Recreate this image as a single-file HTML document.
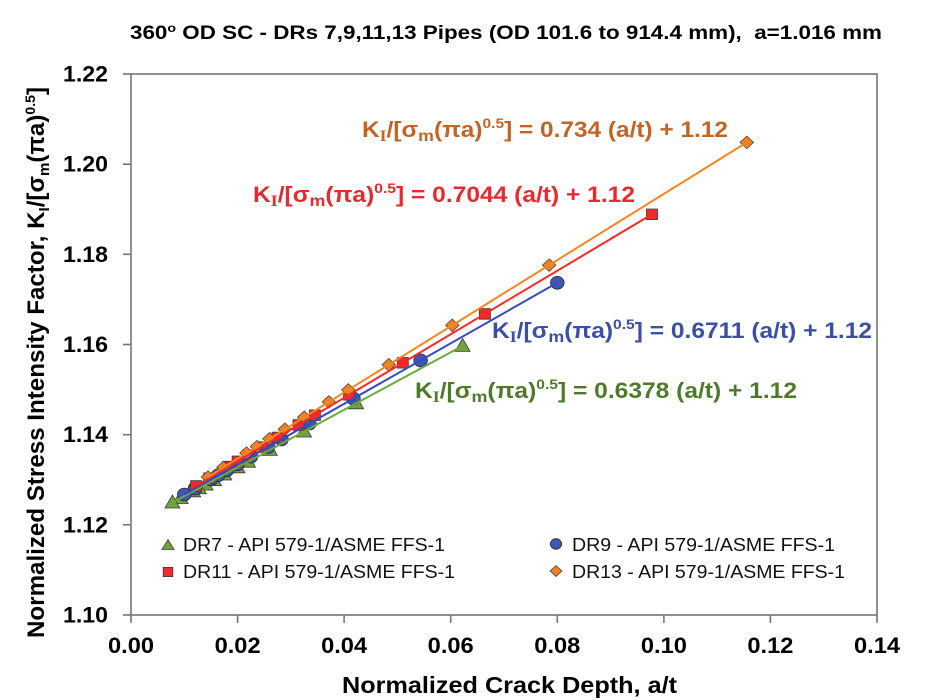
<!DOCTYPE html>
<html>
<head>
<meta charset="utf-8">
<style>
  html,body{margin:0;padding:0;background:#fff;}
  svg{display:block;}
  text{font-family:"Liberation Sans", Arial, sans-serif;}
</style>
</head>
<body>
<svg width="940" height="700" viewBox="0 0 940 700" xmlns="http://www.w3.org/2000/svg">
  <rect x="0" y="0" width="940" height="700" fill="#fff"/>

  <!-- Title -->
  <text x="130" y="39" font-size="19" font-weight="bold" fill="#000" textLength="752" lengthAdjust="spacingAndGlyphs">360<tspan font-size="12" dy="-7">o</tspan><tspan dy="7"> OD SC - DRs 7,9,11,13 Pipes (OD 101.6 to 914.4 mm),&#160; a=1.016 mm</tspan></text>

  <!-- Plot box -->
  <rect x="131" y="74" width="746" height="541" fill="none" stroke="#767676" stroke-width="1.6"/>

  <!-- Y ticks -->
  <g stroke="#767676" stroke-width="1.6">
    <line x1="123" y1="74" x2="131" y2="74"/>
    <line x1="123" y1="164.2" x2="131" y2="164.2"/>
    <line x1="123" y1="254.3" x2="131" y2="254.3"/>
    <line x1="123" y1="344.5" x2="131" y2="344.5"/>
    <line x1="123" y1="434.7" x2="131" y2="434.7"/>
    <line x1="123" y1="524.8" x2="131" y2="524.8"/>
    <line x1="123" y1="615" x2="131" y2="615"/>
  </g>
  <!-- X ticks -->
  <g stroke="#767676" stroke-width="1.6">
    <line x1="131" y1="615" x2="131" y2="623"/>
    <line x1="237.6" y1="615" x2="237.6" y2="623"/>
    <line x1="344.1" y1="615" x2="344.1" y2="623"/>
    <line x1="450.7" y1="615" x2="450.7" y2="623"/>
    <line x1="557.3" y1="615" x2="557.3" y2="623"/>
    <line x1="663.9" y1="615" x2="663.9" y2="623"/>
    <line x1="770.4" y1="615" x2="770.4" y2="623"/>
    <line x1="877" y1="615" x2="877" y2="623"/>
  </g>

  <!-- Y tick labels -->
  <g font-size="22" font-weight="bold" fill="#000">
    <text x="63" y="81.5" textLength="45" lengthAdjust="spacingAndGlyphs">1.22</text>
    <text x="63" y="171.7" textLength="45" lengthAdjust="spacingAndGlyphs">1.20</text>
    <text x="63" y="261.8" textLength="45" lengthAdjust="spacingAndGlyphs">1.18</text>
    <text x="63" y="352" textLength="45" lengthAdjust="spacingAndGlyphs">1.16</text>
    <text x="63" y="442.2" textLength="45" lengthAdjust="spacingAndGlyphs">1.14</text>
    <text x="63" y="532.3" textLength="45" lengthAdjust="spacingAndGlyphs">1.12</text>
    <text x="63" y="622.5" textLength="45" lengthAdjust="spacingAndGlyphs">1.10</text>
  </g>

  <!-- X tick labels -->
  <g font-size="22" font-weight="bold" fill="#000">
    <text x="108" y="653" textLength="46" lengthAdjust="spacingAndGlyphs">0.00</text>
    <text x="214.6" y="653" textLength="46" lengthAdjust="spacingAndGlyphs">0.02</text>
    <text x="321.1" y="653" textLength="46" lengthAdjust="spacingAndGlyphs">0.04</text>
    <text x="427.7" y="653" textLength="46" lengthAdjust="spacingAndGlyphs">0.06</text>
    <text x="534.3" y="653" textLength="46" lengthAdjust="spacingAndGlyphs">0.08</text>
    <text x="640.9" y="653" textLength="46" lengthAdjust="spacingAndGlyphs">0.10</text>
    <text x="747.4" y="653" textLength="46" lengthAdjust="spacingAndGlyphs">0.12</text>
    <text x="854" y="653" textLength="46" lengthAdjust="spacingAndGlyphs">0.14</text>
  </g>

  <!-- X axis title -->
  <text x="342" y="693" font-size="23" font-weight="bold" fill="#000" textLength="335" lengthAdjust="spacingAndGlyphs">Normalized Crack Depth, a/t</text>

  <!-- Y axis title -->
  <text transform="translate(44,638) rotate(-90)" x="0" y="0" font-size="24" font-weight="bold" fill="#000" textLength="551" lengthAdjust="spacingAndGlyphs">Normalized Stress Intensity Factor, K<tspan font-size="15" dy="5">I</tspan><tspan dy="-5">/[σ</tspan><tspan font-size="15" dy="5">m</tspan><tspan dy="-5">(πa)</tspan><tspan font-size="14" dy="-9">0.5</tspan><tspan dy="9">]</tspan></text>

  <!-- Markers DR7 (green triangles) -->
  <g fill="#74A03E" stroke="#3a3a3a" stroke-width="0.8">
    <path transform="translate(462.6,345.9)" d="M0,-7.5L7.5,5.5H-7.5Z"/>
    <path transform="translate(356.2,403.3)" d="M0,-7.5L7.5,5.5H-7.5Z"/>
    <path transform="translate(304.0,431.5)" d="M0,-7.5L7.5,5.5H-7.5Z"/>
    <path transform="translate(269.8,449.9)" d="M0,-7.5L7.5,5.5H-7.5Z"/>
    <path transform="translate(248.0,461.7)" d="M0,-7.5L7.5,5.5H-7.5Z"/>
    <path transform="translate(237.6,467.3)" d="M0,-7.5L7.5,5.5H-7.5Z"/>
    <path transform="translate(224.3,474.5)" d="M0,-7.5L7.5,5.5H-7.5Z"/>
    <path transform="translate(213.9,480.1)" d="M0,-7.5L7.5,5.5H-7.5Z"/>
    <path transform="translate(205.6,484.6)" d="M0,-7.5L7.5,5.5H-7.5Z"/>
    <path transform="translate(198.8,488.2)" d="M0,-7.5L7.5,5.5H-7.5Z"/>
    <path transform="translate(193.2,491.3)" d="M0,-7.5L7.5,5.5H-7.5Z"/>
    <path transform="translate(180.7,498.0)" d="M0,-7.5L7.5,5.5H-7.5Z"/>
    <path transform="translate(172.4,502.5)" d="M0,-7.5L7.5,5.5H-7.5Z"/>
  </g>

  <!-- Markers DR9 (blue circles) -->
  <g fill="#3D57B3" stroke="#2a2a2a" stroke-width="0.8">
    <ellipse cx="557.3" cy="282.8" rx="6.8" ry="6.4"/>
    <ellipse cx="420.6" cy="360.4" rx="6.8" ry="6.4"/>
    <ellipse cx="353.4" cy="398.5" rx="6.8" ry="6.4"/>
    <ellipse cx="309.4" cy="423.5" rx="6.8" ry="6.4"/>
    <ellipse cx="281.5" cy="439.4" rx="6.8" ry="6.4"/>
    <ellipse cx="268.0" cy="447.0" rx="6.8" ry="6.4"/>
    <ellipse cx="250.9" cy="456.7" rx="6.8" ry="6.4"/>
    <ellipse cx="237.6" cy="464.3" rx="6.8" ry="6.4"/>
    <ellipse cx="226.9" cy="470.3" rx="6.8" ry="6.4"/>
    <ellipse cx="218.2" cy="475.3" rx="6.8" ry="6.4"/>
    <ellipse cx="210.9" cy="479.4" rx="6.8" ry="6.4"/>
    <ellipse cx="194.9" cy="488.5" rx="6.8" ry="6.4"/>
    <ellipse cx="184.3" cy="494.5" rx="6.8" ry="6.4"/>
  </g>

  <!-- Markers DR11 (red squares) -->
  <g fill="#EE2A2C" stroke="#3a3a3a" stroke-width="0.8">
    <path transform="translate(652.0,214.3)" d="M-5.5,-5.3H5.5V5.3H-5.5Z"/>
    <path transform="translate(484.9,313.9)" d="M-5.5,-5.3H5.5V5.3H-5.5Z"/>
    <path transform="translate(402.8,362.8)" d="M-5.5,-5.3H5.5V5.3H-5.5Z"/>
    <path transform="translate(349.1,394.8)" d="M-5.5,-5.3H5.5V5.3H-5.5Z"/>
    <path transform="translate(314.9,415.2)" d="M-5.5,-5.3H5.5V5.3H-5.5Z"/>
    <path transform="translate(298.5,425.0)" d="M-5.5,-5.3H5.5V5.3H-5.5Z"/>
    <path transform="translate(277.5,437.5)" d="M-5.5,-5.3H5.5V5.3H-5.5Z"/>
    <path transform="translate(261.3,447.1)" d="M-5.5,-5.3H5.5V5.3H-5.5Z"/>
    <path transform="translate(248.2,454.9)" d="M-5.5,-5.3H5.5V5.3H-5.5Z"/>
    <path transform="translate(237.6,461.3)" d="M-5.5,-5.3H5.5V5.3H-5.5Z"/>
    <path transform="translate(228.7,466.6)" d="M-5.5,-5.3H5.5V5.3H-5.5Z"/>
    <path transform="translate(209.2,478.2)" d="M-5.5,-5.3H5.5V5.3H-5.5Z"/>
    <path transform="translate(196.1,486.0)" d="M-5.5,-5.3H5.5V5.3H-5.5Z"/>
  </g>

  <!-- Markers DR13 (orange diamonds) -->
  <g fill="#F07F26" stroke="#3a3a3a" stroke-width="0.7">
    <path transform="translate(746.8,142.4)" d="M0,-6.3L6.8,0L0,6.3L-6.8,0Z"/>
    <path transform="translate(549.2,265.1)" d="M0,-6.3L6.8,0L0,6.3L-6.8,0Z"/>
    <path transform="translate(452.3,325.3)" d="M0,-6.3L6.8,0L0,6.3L-6.8,0Z"/>
    <path transform="translate(388.8,364.7)" d="M0,-6.3L6.8,0L0,6.3L-6.8,0Z"/>
    <path transform="translate(348.3,389.9)" d="M0,-6.3L6.8,0L0,6.3L-6.8,0Z"/>
    <path transform="translate(328.9,401.9)" d="M0,-6.3L6.8,0L0,6.3L-6.8,0Z"/>
    <path transform="translate(304.2,417.2)" d="M0,-6.3L6.8,0L0,6.3L-6.8,0Z"/>
    <path transform="translate(284.9,429.2)" d="M0,-6.3L6.8,0L0,6.3L-6.8,0Z"/>
    <path transform="translate(269.5,438.8)" d="M0,-6.3L6.8,0L0,6.3L-6.8,0Z"/>
    <path transform="translate(257.0,446.6)" d="M0,-6.3L6.8,0L0,6.3L-6.8,0Z"/>
    <path transform="translate(246.5,453.1)" d="M0,-6.3L6.8,0L0,6.3L-6.8,0Z"/>
    <path transform="translate(223.4,467.4)" d="M0,-6.3L6.8,0L0,6.3L-6.8,0Z"/>
    <path transform="translate(208.0,477.0)" d="M0,-6.3L6.8,0L0,6.3L-6.8,0Z"/>
  </g>

  <!-- Trend lines -->
  <g stroke-width="2" fill="none">
    <line x1="172.4" y1="502.5" x2="462.6" y2="345.9" stroke="#6BAA3C"/>
    <line x1="184.3" y1="494.5" x2="557.3" y2="282.8" stroke="#3449C2"/>
    <line x1="196.1" y1="486.0" x2="652.0" y2="214.3" stroke="#FF2626"/>
    <line x1="208.0" y1="477.0" x2="746.8" y2="142.4" stroke="#F7861E"/>
  </g>

  <!-- Equations -->
  <text x="362" y="137" font-size="22" font-weight="bold" fill="#C46424" textLength="366" lengthAdjust="spacingAndGlyphs">K<tspan font-size="16" dy="4" font-family="Liberation Serif, serif">I</tspan><tspan dy="-4">/[σ</tspan><tspan font-size="16" dy="4">m</tspan><tspan dy="-4">(πa)</tspan><tspan font-size="14" dy="-9">0.5</tspan><tspan dy="9">] = 0.734 (a/t) + 1.12</tspan></text>

  <text x="253" y="202" font-size="22" font-weight="bold" fill="#E8292F" textLength="382" lengthAdjust="spacingAndGlyphs">K<tspan font-size="16" dy="4" font-family="Liberation Serif, serif">I</tspan><tspan dy="-4">/[σ</tspan><tspan font-size="16" dy="4">m</tspan><tspan dy="-4">(πa)</tspan><tspan font-size="14" dy="-9">0.5</tspan><tspan dy="9">] = 0.7044 (a/t) + 1.12</tspan></text>

  <text x="492" y="338" font-size="22" font-weight="bold" fill="#3B4FA8" textLength="380" lengthAdjust="spacingAndGlyphs">K<tspan font-size="16" dy="4" font-family="Liberation Serif, serif">I</tspan><tspan dy="-4">/[σ</tspan><tspan font-size="16" dy="4">m</tspan><tspan dy="-4">(πa)</tspan><tspan font-size="14" dy="-9">0.5</tspan><tspan dy="9">] = 0.6711 (a/t) + 1.12</tspan></text>

  <text x="415" y="398" font-size="22" font-weight="bold" fill="#4F7A2B" textLength="382" lengthAdjust="spacingAndGlyphs">K<tspan font-size="16" dy="4" font-family="Liberation Serif, serif">I</tspan><tspan dy="-4">/[σ</tspan><tspan font-size="16" dy="4">m</tspan><tspan dy="-4">(πa)</tspan><tspan font-size="14" dy="-9">0.5</tspan><tspan dy="9">] = 0.6378 (a/t) + 1.12</tspan></text>

  <!-- Legend -->
  <path transform="translate(168,545)" d="M0,-5.5L6,4.5H-6Z" fill="#74A03E" stroke="#3a3a3a" stroke-width="0.8"/>
  <path transform="translate(168,572)" d="M-4.8,-4.6H4.8V4.6H-4.8Z" fill="#EE2A2C" stroke="#3a3a3a" stroke-width="0.8"/>
  <ellipse cx="556" cy="544" rx="5.6" ry="5.3" fill="#3D57B3" stroke="#2a2a2a" stroke-width="0.8"/>
  <path transform="translate(556,571)" d="M0,-5.5L6,0L0,5.5L-6,0Z" fill="#F07F26" stroke="#3a3a3a" stroke-width="0.7"/>

  <g font-size="18.5" fill="#111">
    <text x="183" y="551" textLength="262" lengthAdjust="spacingAndGlyphs">DR7 - API 579-1/ASME FFS-1</text>
    <text x="183" y="578" textLength="272" lengthAdjust="spacingAndGlyphs">DR11 - API 579-1/ASME FFS-1</text>
    <text x="572" y="551" textLength="263" lengthAdjust="spacingAndGlyphs">DR9 - API 579-1/ASME FFS-1</text>
    <text x="572" y="578" textLength="273" lengthAdjust="spacingAndGlyphs">DR13 - API 579-1/ASME FFS-1</text>
  </g>
</svg>
</body>
</html>
